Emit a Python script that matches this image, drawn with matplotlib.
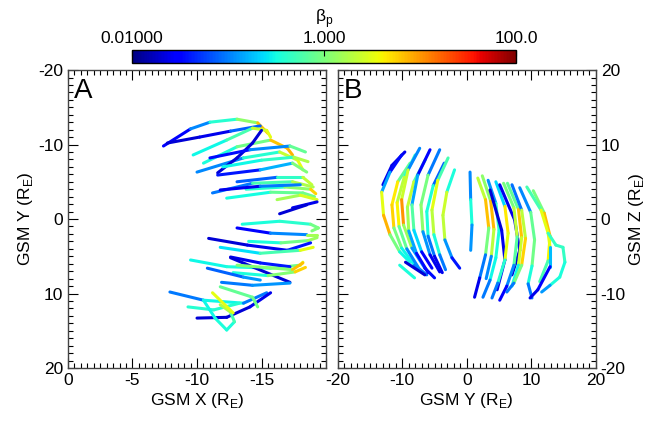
import numpy as np
import matplotlib
matplotlib.use('Agg')
import matplotlib.pyplot as plt
from matplotlib.collections import LineCollection
from matplotlib.colors import LogNorm
from matplotlib.ticker import MultipleLocator

plt.rcParams['font.family'] = ['Liberation Sans', 'DejaVu Sans']
plt.rcParams['mathtext.fontset'] = 'custom'
plt.rcParams['mathtext.rm'] = 'Liberation Sans'
plt.rcParams['font.size'] = 12.5
plt.rcParams['axes.unicode_minus'] = False

# Panel A: tracks in GSM X-Y, (x list, y list, beta list)
tracks_a = [
    ([-7.4, -9.5, -11.0, -13.1, -14.7, -15.5], [-9.8, -12.1, -13.0, -13.4, -12.9, -11.5], [0.02, 0.04, 0.3, 0.5, 3, 15]),
    ([-7.7, -10.2, -12.6, -14.9], [-10.2, -11.0, -11.8, -12.5], [0.02, 0.02, 0.03, 0.2]),
    ([-9.7, -12.3, -14.3, -15.4, -15.7], [-8.6, -10.6, -12.2, -11.9, -11.0], [0.3, 0.3, 1.0, 5, 2]),
    ([-10.5, -13.1, -15.7, -17.0, -17.4], [-7.5, -9.7, -10.6, -9.5, -8.6], [0.3, 0.4, 2, 20, 3]),
    ([-10.0, -13.6, -16.4, -17.8, -18.2], [-6.3, -8.2, -9.0, -7.9, -6.6], [0.04, 0.3, 0.5, 10, 1]),
    ([-11.6, -13.1, -14.3, -15.0], [-6.2, -8.2, -10.2, -11.9], [0.02, 0.02, 0.02, 0.02]),
    ([-11.6, -14.9, -17.4, -18.5], [-5.9, -6.6, -7.5, -6.3], [0.03, 0.05, 0.5, 2]),
    ([-12.0, -15.0, -17.5, -18.6], [-7.0, -7.9, -8.3, -7.7], [0.3, 0.3, 0.6, 5]),
    ([-13.1, -16.2, -18.2, -18.9], [-5.0, -5.6, -5.6, -4.6], [0.02, 0.3, 0.6, 8]),
    ([-11.2, -14.3, -17.4, -19.0], [-3.5, -4.8, -5.0, -4.3], [0.03, 0.3, 1, 3]),
    ([-13.8, -16.8, -18.8, -19.2], [-4.0, -4.3, -4.0, -3.4], [0.3, 0.5, 3, 10]),
    ([-12.3, -15.7, -18.2, -19.1], [-2.8, -3.6, -3.5, -3.0], [0.25, 0.4, 1.5, 0.5]),
    ([-16.2, -18.0, -19.3], [-2.6, -3.2, -2.6], [0.3, 8, 1]),
    ([-17.4, -19.3], [-1.5, -2.3], [0.02, 0.03]),
    ([-11.0, -14.1, -17.2, -18.4], [-8.2, -9.3, -9.8, -9.0], [0.03, 0.04, 0.3, 2]),
    ([-11.8, -14.9, -18.0], [-3.9, -4.4, -4.6], [0.02, 0.03, 0.3]),
    ([-16.4, -18.5], [-0.7, -1.9], [0.02, 0.02]),
    ([-13.5, -16.4, -18.8, -19.4, -18.9], [0.7, 0.3, 0.7, 1.2, 1.6], [0.3, 0.4, 0.4, 2, 0.5]),
    ([-13.1, -15.7, -18.5, -19.3], [1.2, 1.9, 2.1, 2.1], [0.02, 0.04, 0.3, 8]),
    ([-14.0, -16.5, -18.6, -19.3], [3.0, 3.2, 2.9, 2.5], [0.3, 0.4, 2, 1]),
    ([-10.9, -13.9, -17.0, -18.8], [2.6, 3.5, 4.2, 3.2], [0.02, 0.02, 0.03, 0.05]),
    ([-11.8, -14.9, -18.0, -19.0], [3.8, 4.6, 4.2, 3.8], [0.2, 0.3, 1, 10]),
    ([-9.5, -12.3, -15.7, -18.0, -18.2], [5.5, 6.4, 6.6, 6.2, 5.8], [0.3, 0.3, 0.4, 2, 5]),
    ([-12.6, -14.9, -17.2], [5.1, 5.9, 6.4], [0.02, 0.03, 0.05]),
    ([-12.6, -17.2], [5.2, 8.5], [0.02, 0.02]),
    ([-13.1, -17.4, -18.2], [6.2, 6.8, 5.9], [0.4, 3, 15]),
    ([-12.8, -15.5, -17.6, -18.4], [7.2, 7.6, 7.1, 6.5], [0.3, 0.4, 3, 10]),
    ([-10.8, -13.6, -14.9], [6.6, 7.8, 8.2], [0.02, 0.3, 0.05]),
    ([-11.9, -14.3, -17.2], [8.5, 8.9, 8.6], [0.03, 0.3, 0.05]),
    ([-7.9, -10.5, -13.6, -15.4], [9.8, 10.9, 11.3, 9.9], [0.03, 0.3, 0.3, 0.03]),
    ([-9.3, -11.3, -13.3], [11.8, 12.2, 11.3], [0.3, 0.5, 0.3]),
    ([-10.0, -12.3, -14.1, -15.7], [13.3, 13.2, 11.8, 9.9], [0.02, 0.02, 0.02, 0.03]),
    ([-10.5, -11.4, -12.3, -12.9, -12.6, -11.8], [10.9, 13.3, 14.9, 13.8, 12.5, 11.5], [0.3, 0.3, 0.4, 0.3, 1, 3]),
    ([-11.2, -12.8], [9.9, 12.6], [1, 10]),
    ([-11.8, -14.3, -14.7], [9.1, 10.5, 11.8], [0.3, 2, 0.4]),
]

# Panel B: tracks in GSM Y-Z, (y list, z list, beta list)
tracks_b = [
    ([-9.6, -11.6, -13.0], [9.0, 7.2, 4.6], [0.02, 0.03, 0.02]),
    ([-10.1, -11.9, -13.2, -12.9, -11.9, -10.4, -8.8], [8.6, 6.3, 3.6, 0.5, -2.1, -4.4, -5.8], [0.03, 0.04, 0.5, 20, 3, 0.3, 0.3]),
    ([-8.8, -10.7, -11.6, -11.3, -10.1, -8.1, -6.2], [7.5, 5.0, 1.9, -1.2, -3.9, -6.2, -7.5], [0.3, 2, 10, 3, 0.3, 0.3, 0.03]),
    ([-8.0, -9.7, -10.8, -10.5, -9.3, -7.3], [8.6, 5.6, 2.2, -1.0, -4.0, -6.8], [0.3, 0.5, 8, 2, 0.3, 0.04]),
    ([-7.3, -9.1, -10.1, -9.8, -8.5, -6.5, -5.0], [9.5, 6.6, 2.6, -0.8, -3.9, -6.6, -7.9], [0.04, 0.3, 20, 5, 0.4, 0.04, 0.03]),
    ([-6.4, -8.2, -9.2, -9.0, -7.8, -6.0], [8.0, 5.0, 1.6, -1.6, -4.6, -7.2], [0.4, 1, 5, 0.5, 0.04, 0.03]),
    ([-5.7, -7.6, -8.5, -8.2, -7.0, -5.4], [9.3, 5.9, 1.9, -1.5, -4.4, -6.6], [0.02, 0.05, 0.4, 1, 0.05, 0.02]),
    ([-4.2, -6.0, -7.1, -6.8, -5.7, -4.2], [9.3, 5.9, 1.9, -1.7, -4.8, -7.1], [0.03, 0.3, 3, 0.5, 0.03, 0.02]),
    ([-3.5, -5.2, -6.2, -6.0, -5.0, -3.8], [7.5, 4.5, 1.0, -2.3, -5.0, -7.2], [0.02, 0.3, 0.4, 0.3, 0.03, 0.02]),
    ([-2.9, -4.5, -5.4, -5.1, -4.2, -3.3], [8.2, 5.2, 1.2, -2.1, -4.8, -6.8], [0.3, 1, 10, 0.4, 0.3, 0.03]),
    ([-1.9, -3.1, -3.7, -3.4, -2.3, -1.1], [6.6, 3.6, 0.5, -2.8, -5.2, -6.6], [0.3, 0.4, 15, 0.3, 0.05, 0.03]),
    ([-9.5, -6.5], [-5.8, -7.5], [0.02, 0.02]),
    ([-10.4, -8.1], [-6.2, -7.9], [0.3, 0.4]),
    ([0.5, 0.6, 0.8, 0.6], [6.3, 2.6, -0.8, -4.2], [0.03, 0.4, 0.3, 0.05]),
    ([1.7, 2.9, 3.4, 2.9, 2.0, 1.2], [5.5, 2.6, -1.2, -4.8, -7.9, -10.5], [0.3, 15, 3, 0.3, 0.03, 0.02]),
    ([2.4, 3.7, 4.2, 3.8, 3.0], [5.8, 2.4, -1.4, -5.0, -8.0], [0.3, 5, 10, 0.4, 0.03]),
    ([3.3, 4.5, 5.0, 4.5, 3.6, 2.5], [5.2, 2.1, -1.5, -5.2, -8.2, -10.5], [0.03, 0.5, 0.4, 0.3, 0.3, 0.03]),
    ([3.6, 5.4, 5.9, 4.7], [3.9, -1.5, -5.5, -9.5], [0.02, 0.02, 0.03, 0.02]),
    ([4.5, 5.9, 6.4, 5.9, 4.8, 3.9], [5.0, 1.7, -1.9, -5.5, -8.6, -10.6], [0.05, 1, 20, 0.5, 0.3, 0.03]),
    ([5.1, 7.4, 8.2, 7.0], [4.6, -0.1, -4.2, -7.5], [0.02, 0.03, 0.02, 0.02]),
    ([5.7, 7.3, 7.8, 7.3, 6.2, 5.1], [4.8, 1.5, -2.4, -6.2, -9.0, -10.9], [0.3, 3, 1.5, 0.3, 0.04, 0.02]),
    ([6.3, 8.0, 8.5, 8.0, 7.0], [4.8, 1.3, -2.5, -6.2, -9.0], [0.3, 2, 20, 0.3, 0.3]),
    ([7.0, 8.5, 9.1, 8.5, 7.3, 6.2], [4.6, 1.2, -2.6, -6.2, -8.6, -9.8], [0.02, 0.4, 10, 3, 0.3, 0.03]),
    ([8.2, 9.9, 10.5, 10.1, 9.5, 10.1], [4.2, 0.9, -2.8, -6.3, -8.7, -10.6], [0.04, 0.3, 2, 0.4, 0.3, 0.03]),
    ([10.3, 12.0, 12.9, 12.6, 11.3], [3.8, 0.8, -2.3, -5.6, -8.4], [0.3, 3, 15, 1, 0.3]),
    ([9.3, 11.5, 12.6, 12.9, 12.9, 11.0, 9.8], [4.3, 1.2, -1.9, -3.8, -6.4, -9.5, -10.6], [0.3, 1, 10, 1, 0.03, 0.03, 0.02]),
    ([12.6, 13.8, 14.9, 15.2, 14.4, 12.9, 11.6], [-1.9, -3.5, -3.8, -5.8, -7.8, -8.9, -9.8], [0.5, 0.4, 0.5, 0.4, 0.3, 0.4, 0.04]),
]

norm = LogNorm(vmin=0.01, vmax=100)
cmap = plt.get_cmap('jet')


def draw_tracks(ax, tracks):
    segs, vals = [], []
    for xs, ys, bs in tracks:
        for i in range(len(xs) - 1):
            segs.append([(xs[i], ys[i]), (xs[i + 1], ys[i + 1])])
            vals.append(np.sqrt(bs[i] * bs[i + 1]))
    lc = LineCollection(segs, cmap=cmap, norm=norm, linewidths=2.2, capstyle='round', joinstyle='round')
    lc.set_array(np.array(vals))
    ax.add_collection(lc)
    return lc


def style(ax, xmaj, xmin, ymaj, ymin):
    ax.xaxis.set_major_locator(MultipleLocator(xmaj))
    ax.xaxis.set_minor_locator(MultipleLocator(xmin))
    ax.yaxis.set_major_locator(MultipleLocator(ymaj))
    ax.yaxis.set_minor_locator(MultipleLocator(ymin))
    ax.tick_params(which='both', direction='in', top=True, bottom=True, left=True, right=True)
    ax.tick_params(which='major', length=7, width=0.8)
    ax.tick_params(which='minor', length=3.5, width=0.8)
    for s in ax.spines.values():
        s.set_linewidth(1.0)
        s.set_color('#444444')


fig = plt.figure(figsize=(6.47, 4.22), dpi=100)
ax_a = fig.add_axes([0.105, 0.128, 0.399, 0.706])
ax_b = fig.add_axes([0.522, 0.128, 0.399, 0.706])
cax = fig.add_axes([0.204, 0.851, 0.594, 0.031])

lc = draw_tracks(ax_a, tracks_a)
ax_a.set_xlim(0, -20)
ax_a.set_ylim(20, -20)
style(ax_a, 5, 0.5, 10, 1)
ax_a.set_xticks([0, -5, -10, -15, -20])
ax_a.set_xticklabels(['0', '-5', '-10', '-15', ''])
ax_a.set_xlabel('GSM X (R$_\\mathrm{E}$)', labelpad=2)
ax_a.set_ylabel('GSM Y (R$_\\mathrm{E}$)', labelpad=2)
ax_a.text(0.025, 0.975, 'A', transform=ax_a.transAxes, fontsize=20, va='top', ha='left')

draw_tracks(ax_b, tracks_b)
ax_b.set_xlim(-20, 20)
ax_b.set_ylim(-20, 20)
style(ax_b, 10, 1, 10, 1)
ax_b.tick_params(axis='y', labelleft=False, labelright=True)
ax_b.yaxis.set_label_position('right')
ax_b.set_xlabel('GSM Y (R$_\\mathrm{E}$)', labelpad=2)
ax_b.set_ylabel('GSM Z (R$_\\mathrm{E}$)', labelpad=1, rotation=90)
ax_b.text(0.025, 0.975, 'B', transform=ax_b.transAxes, fontsize=20, va='top', ha='left')

cb = fig.colorbar(lc, cax=cax, orientation='horizontal')
cb.set_ticks([0.01, 1, 100])
cb.set_ticklabels(['0.01000', '1.000', '100.0'])
cax.minorticks_off()
cax.xaxis.set_ticks_position('top')
cax.xaxis.set_label_position('top')
cax.tick_params(direction='in', length=4, pad=3)
cb.set_label('β$_\\mathrm{p}$', labelpad=6)
cb.outline.set_linewidth(1.0)

fig.savefig('out.png', dpi=100)
